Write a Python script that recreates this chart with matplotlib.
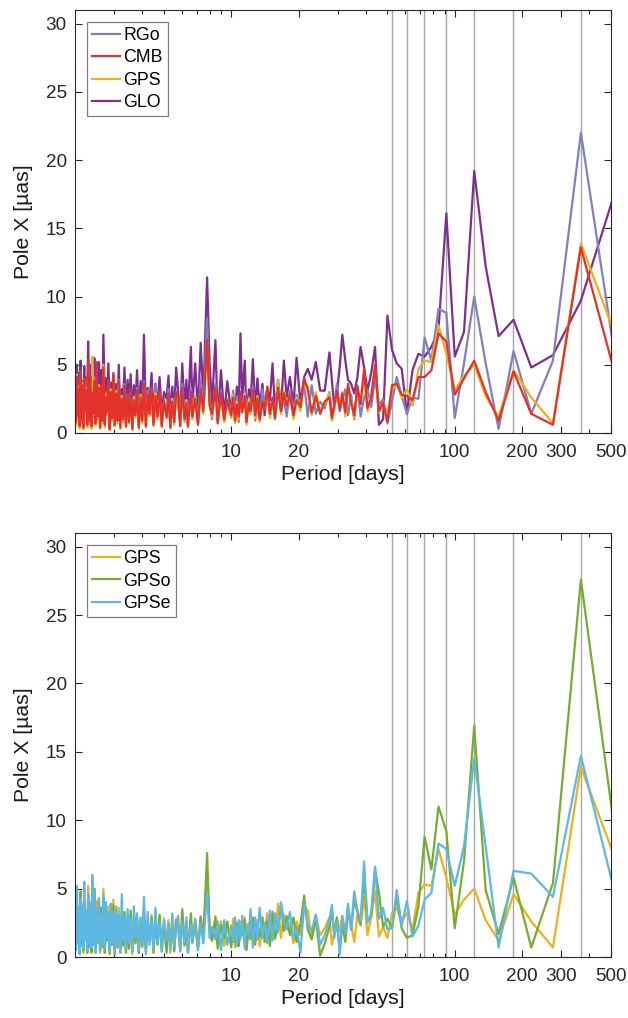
import matplotlib
matplotlib.use("Agg")
import matplotlib.pyplot as plt
from matplotlib.ticker import FixedLocator, NullFormatter, FixedFormatter

plt.rcParams['font.family'] = ['Liberation Sans', 'DejaVu Sans']

# periods [days] of the periodogram (long -> short)
period = [550, 366.7, 275, 220, 183.3, 157.1, 137.5, 122.2, 110, 100,
          91.7, 84.6, 78.6, 73.3, 68.8, 64.7, 61.1, 57.9, 55, 52.4,
          50, 47.8, 45.8, 44, 42.3, 40.7, 39.3, 37.9, 36.7, 35.5,
          34.4, 33.3, 32.4, 31.4, 30.6, 29.7, 28.9, 28.2, 27.5, 26.2,
          25, 23.9, 22.9, 22, 21.2, 20.4, 19.6, 19, 18.3, 17.7,
          17.2, 16.7, 16.2, 15.7, 15.3, 14.9, 14.5, 14.1, 13.8, 13.4,
          13.1, 12.8, 12.5, 12.2, 12, 11.7, 11.5, 11.2, 11, 10.8,
          10.6, 10.4, 10.2, 10, 9.6, 9.3, 9.0, 8.7, 8.5, 8.2,
          8.0, 7.8, 7.5, 7.3, 7.1, 6.9, 6.7, 6.6, 6.4, 6.3,
          6.18, 6.04, 5.91, 5.79, 5.67, 5.56, 5.45, 5.34, 5.24, 5.14,
          5.0, 4.89, 4.78, 4.68, 4.58, 4.49, 4.4, 4.31, 4.23, 4.15,
          4.07, 4.0, 3.93, 3.86, 3.79, 3.73, 3.67, 3.61, 3.55, 3.49,
          3.44, 3.38, 3.33, 3.28, 3.24, 3.19, 3.14, 3.10, 3.06, 3.01,
          2.97, 2.93, 2.89, 2.86, 2.82, 2.78, 2.75, 2.72, 2.68, 2.65,
          2.62, 2.59, 2.56, 2.53, 2.50, 2.47, 2.44, 2.42, 2.39, 2.37,
          2.34, 2.32, 2.29, 2.27, 2.24, 2.22, 2.20, 2.18, 2.16, 2.14,
          2.12, 2.10, 2.08, 2.06, 2.04, 2.02, 2.0]

# annual harmonics marked by grey lines
harmonics = [52.2, 60.9, 73.1, 91.3, 121.8, 182.6, 365.3]

glo = [18.9, 9.7, 5.7, 4.8, 8.3, 7.1, 12.2, 19.2, 7.4, 5.6,
       16.1, 7.6, 6.3, 5.6, 5.8, 4.6, 1.4, 4.7, 5.1, 6.1,
       8.6, 1.0, 0.6, 6.3, 4.4, 3.1, 4.8, 6.3, 4.1, 2.9,
       3.6, 3.9, 5.3, 7.2, 4.9, 2.9, 1.9, 3.9, 5.9, 3.1,
       3.1, 5.2, 3.9, 4.7, 4.1, 2.2, 5.5, 2.0, 4.1, 2.6,
       5.3, 1.8, 3.9, 1.6, 5.1, 2.4, 3.3, 1.3, 3.6, 1.9,
       4.0, 1.7, 5.4, 2.1, 3.2, 1.2, 5.3, 2.5, 7.3, 1.5,
       3.4, 1.2, 2.9, 1.5, 3.8, 1.3, 4.6, 0.9, 6.8, 2.0,
       5.2, 11.4, 2.6, 6.6, 1.5, 5.1, 2.0, 6.3, 1.4, 3.9,
       1.8, 5.1, 1.1, 3.0, 4.8, 1.6, 3.4, 1.2, 4.2, 2.5,
       3.0, 1.4, 4.1, 2.0, 3.6, 1.3, 4.4, 2.1, 3.3, 1.6,
       7.2, 1.9, 3.8, 1.4, 4.6, 2.2, 3.5, 1.1, 4.3, 2.0,
       3.9, 1.5, 4.8, 2.4, 3.2, 1.3, 5.0, 1.8, 3.6, 2.6,
       4.3, 1.6, 3.7, 2.2, 5.1, 1.4, 4.0, 2.5, 7.2, 1.8,
       4.6, 2.1, 5.2, 1.5, 3.9, 2.8, 5.5, 1.6, 4.4, 2.3,
       5.0, 1.7, 6.7, 2.4, 4.1, 1.9, 4.9, 2.2, 3.8, 1.5,
       5.3, 2.6, 4.4, 1.9, 5.0, 3.1, 4.6]

rgo = [3.0, 22.0, 5.3, 1.4, 6.0, 0.3, 5.1, 10.0, 5.1, 1.1,
       8.8, 9.1, 5.3, 7.0, 2.5, 2.6, 1.4, 2.7, 4.1, 2.3,
       0.7, 2.5, 2.0, 4.0, 1.9, 3.2, 2.6, 1.2, 3.5, 1.0,
       2.8, 1.3, 3.2, 2.4, 1.6, 3.6, 2.0, 1.4, 3.0, 1.8,
       2.3, 1.4, 3.5, 1.2, 3.6, 2.1, 2.8, 1.7, 3.1, 1.2,
       2.6, 1.5, 3.3, 1.0, 2.4, 1.3, 2.9, 1.8, 3.2, 1.1,
       2.2, 0.9, 3.4, 1.6, 2.6, 1.0, 3.0, 1.9, 2.4, 0.8,
       2.7, 1.3, 3.1, 1.6, 2.5, 0.9, 2.8, 1.4, 3.6, 1.0,
       2.4, 8.4, 1.9, 3.9, 0.8, 2.7, 1.5, 3.3, 0.6, 2.4,
       1.3, 3.6, 0.7, 2.1, 3.0, 1.0, 2.5, 0.5, 3.2, 1.4,
       2.2, 0.6, 2.9, 1.3, 3.5, 0.9, 2.6, 1.6, 3.1, 0.7,
       3.8, 1.1, 2.4, 0.5, 3.3, 1.5, 2.7, 0.4, 3.0, 1.2,
       2.8, 0.6, 3.6, 1.4, 2.3, 0.8, 3.9, 1.0, 2.6, 0.5,
       3.2, 1.2, 2.5, 0.4, 3.7, 1.6, 2.9, 0.7, 4.2, 1.1,
       2.7, 0.5, 3.5, 1.3, 2.4, 0.8, 4.1, 1.5, 3.0, 0.6,
       3.4, 1.0, 4.3, 0.7, 2.8, 1.4, 3.6, 0.3, 3.1, 1.2,
       3.9, 0.8, 2.7, 1.5, 4.0, 0.9, 3.3]

cmb = [2.9, 13.6, 0.6, 1.4, 4.5, 0.9, 3.0, 5.3, 4.0, 2.8,
       6.7, 7.3, 4.6, 4.1, 4.1, 2.4, 2.7, 2.8, 3.6, 3.5,
       0.8, 2.2, 1.6, 5.0, 2.6, 1.8, 4.7, 2.1, 3.4, 1.3,
       2.2, 3.6, 1.5, 2.9, 1.7, 3.1, 2.0, 1.1, 2.6, 2.3,
       1.4, 2.7, 1.5, 3.2, 4.0, 1.9, 2.4, 1.3, 2.8, 2.0,
       2.9, 1.6, 3.3, 1.1, 2.6, 1.4, 3.4, 1.7, 2.3, 1.0,
       2.5, 1.3, 3.1, 1.6, 2.2, 0.8, 2.7, 1.5, 3.0, 1.2,
       2.1, 0.9, 2.6, 1.3, 2.4, 1.0, 2.9, 0.7, 3.3, 1.4,
       2.0, 6.8, 1.6, 3.2, 0.6, 2.5, 1.2, 3.0, 0.5, 2.2,
       1.0, 3.3, 0.5, 2.6, 3.0, 0.8, 2.3, 0.4, 2.9, 1.1,
       2.4, 0.5, 3.1, 1.2, 2.7, 0.6, 3.3, 1.4, 2.8, 0.5,
       3.6, 0.9, 2.6, 0.4, 3.1, 1.3, 2.4, 0.3, 3.2, 0.8,
       2.7, 0.5, 3.4, 1.0, 2.5, 0.4, 3.8, 0.9, 2.9, 0.6,
       4.4, 1.1, 3.0, 0.3, 3.9, 1.5, 2.6, 0.6, 4.8, 0.9,
       3.5, 0.4, 3.3, 1.2, 5.2, 0.7, 3.8, 1.4, 2.9, 0.5,
       4.2, 0.9, 5.4, 0.6, 3.1, 1.6, 4.0, 0.4, 3.5, 1.0,
       4.6, 0.5, 3.2, 1.3, 4.1, 0.8, 3.6]

gps = [6.2, 13.9, 0.7, 2.6, 4.6, 1.2, 2.7, 5.0, 4.2, 3.1,
       5.8, 7.9, 5.2, 5.3, 4.7, 2.0, 3.2, 2.6, 3.6, 3.2,
       1.4, 2.2, 1.5, 4.8, 2.9, 1.6, 4.4, 2.3, 3.1, 1.1,
       2.4, 3.3, 1.2, 3.0, 1.9, 2.8, 1.7, 0.9, 2.9, 2.1,
       1.6, 3.0, 1.3, 3.4, 3.7, 1.6, 2.6, 1.0, 2.5, 2.2,
       3.1, 1.4, 3.9, 1.3, 2.4, 1.1, 3.2, 1.9, 2.1, 0.8,
       2.7, 1.1, 2.9, 1.4, 2.5, 0.6, 2.9, 1.7, 2.6, 1.0,
       2.3, 0.7, 2.8, 1.1, 2.2, 0.8, 2.6, 0.9, 3.0, 1.2,
       2.2, 6.0, 1.4, 3.0, 0.7, 2.7, 1.0, 2.8, 0.4, 2.4,
       0.8, 3.1, 0.6, 2.4, 2.8, 0.6, 2.5, 0.3, 2.7, 1.3,
       2.2, 0.4, 2.9, 1.0, 2.9, 0.5, 3.1, 1.2, 2.6, 0.4,
       3.4, 0.7, 2.8, 0.3, 2.9, 1.1, 2.6, 0.2, 3.0, 0.7,
       2.5, 0.4, 3.2, 0.8, 2.7, 0.3, 3.6, 0.7, 3.1, 0.5,
       4.2, 0.9, 3.2, 0.2, 3.7, 1.3, 2.8, 0.4, 5.0, 0.7,
       3.3, 0.3, 3.5, 1.0, 4.1, 0.6, 3.6, 1.2, 5.6, 0.3,
       4.0, 0.7, 5.2, 0.4, 3.3, 1.4, 3.8, 0.3, 3.7, 0.8,
       4.4, 0.3, 3.4, 1.1, 4.3, 0.6, 3.8]

gpso = [6.2, 27.6, 5.4, 0.7, 5.8, 1.7, 4.9, 16.9, 7.0, 2.1,
        9.2, 11.0, 6.4, 8.8, 3.7, 1.6, 1.4, 2.1, 4.4, 2.1,
        2.8, 2.2, 4.7, 6.4, 3.0, 2.6, 5.9, 2.4, 3.3, 4.2,
        2.0, 3.6, 1.1, 2.4, 0.4, 2.9, 1.7, 3.4, 2.2, 1.0,
        0.1, 2.8, 1.3, 2.0, 4.5, 2.4, 1.1, 2.9, 1.6, 3.0,
        1.9, 3.9, 2.2, 1.4, 3.3, 0.8, 2.6, 1.1, 2.9, 1.5,
        2.4, 0.9, 2.8, 1.3, 2.2, 0.5, 2.7, 1.6, 2.0, 0.8,
        2.5, 1.1, 2.1, 0.7, 2.6, 1.4, 2.3, 0.6, 2.9, 1.2,
        2.0, 7.6, 1.3, 2.9, 0.6, 2.4, 1.1, 3.2, 0.4, 2.5,
        0.9, 3.5, 0.5, 2.2, 2.7, 0.4, 2.6, 0.9, 2.4, 0.3,
        2.5, 0.6, 3.1, 0.9, 2.7, 0.3, 2.9, 1.2, 2.3, 0.5,
        3.6, 0.8, 2.6, 0.3, 2.8, 1.0, 2.4, 0.4, 3.4, 0.6,
        2.3, 0.3, 3.3, 0.9, 2.6, 0.4, 3.0, 0.7, 2.9, 0.2,
        3.8, 0.9, 3.4, 0.3, 3.0, 1.2, 2.7, 0.3, 4.4, 0.8,
        3.6, 0.5, 4.2, 1.1, 3.2, 0.6, 5.0, 0.9, 3.9, 0.4,
        3.7, 0.8, 4.5, 0.3, 3.4, 1.3, 4.0, 0.5, 3.2, 1.0,
        4.8, 0.4, 3.0, 1.2, 3.9, 0.6, 3.5]

gpse = [3.1, 14.7, 4.4, 6.1, 6.3, 0.7, 8.1, 14.5, 8.1, 5.2,
        7.9, 8.3, 4.7, 4.2, 2.3, 1.5, 4.1, 2.3, 4.9, 2.1,
        2.0, 3.6, 2.8, 6.6, 3.2, 2.5, 7.0, 2.6, 3.4, 4.8,
        2.1, 3.9, 1.7, 3.0, 0.2, 2.6, 1.4, 3.8, 2.7, 1.6,
        0.9, 3.1, 1.9, 2.4, 3.9, 0.3, 2.2, 1.4, 3.3, 2.0,
        2.6, 4.0, 1.8, 3.2, 1.2, 3.4, 1.0, 2.5, 1.4, 3.6,
        1.3, 2.9, 0.7, 3.5, 1.5, 2.4, 0.6, 3.0, 1.3, 2.7,
        0.8, 2.9, 1.1, 2.3, 0.9, 2.7, 0.5, 2.6, 1.3, 2.2,
        1.4, 4.8, 1.0, 2.5, 0.5, 2.8, 1.2, 2.4, 0.3, 2.9,
        1.1, 2.6, 0.4, 3.0, 2.1, 0.8, 3.2, 0.5, 2.3, 1.2,
        2.8, 0.4, 2.5, 1.1, 3.6, 0.6, 2.7, 0.9, 3.3, 0.2,
        4.4, 0.9, 2.9, 0.5, 3.2, 1.3, 3.7, 0.4, 2.8, 1.0,
        3.5, 0.6, 2.9, 1.2, 4.6, 0.3, 3.1, 0.8, 3.7, 0.5,
        3.4, 1.0, 3.9, 0.4, 3.2, 1.4, 4.0, 0.6, 4.6, 0.9,
        3.1, 0.5, 4.3, 1.2, 3.6, 0.3, 4.8, 1.0, 6.0, 0.7,
        3.8, 1.1, 4.6, 0.4, 3.3, 1.5, 5.5, 0.6, 3.9, 1.3,
        4.3, 0.2, 3.6, 1.0, 5.2, 0.5, 4.5]

# (label, values, colour) in drawing order, plus legend order
top_series = [('GLO', glo, '#7E2F8E'), ('RGo', rgo, '#8080C0'),
              ('GPS', gps, '#EDB120'), ('CMB', cmb, '#E4312B')]
top_legend = ['RGo', 'CMB', 'GPS', 'GLO']
bot_series = [('GPS', gps, '#EDB120'), ('GPSo', gpso, '#77AC30'),
              ('GPSe', gpse, '#5DB8E2')]
bot_legend = ['GPS', 'GPSo', 'GPSe']

fig = plt.figure(figsize=(6.28, 10.18), dpi=100)
ax1 = fig.add_axes([0.1194, 0.5747, 0.8535, 0.4155])
ax2 = fig.add_axes([0.1194, 0.0599, 0.8535, 0.4165])

tick_fs = 13.6
label_fs = 15.3
leg_fs = 12.8
for ax, series, order in [(ax1, top_series, top_legend), (ax2, bot_series, bot_legend)]:
    for h in harmonics:
        ax.axvline(h, color='#A6A6A6', lw=1.0, zorder=1)
    handles = {}
    for name, vals, col in series:
        ln, = ax.plot(period, vals, color=col, lw=1.6, zorder=2, label=name)
        handles[name] = ln
    ax.set_xscale('log')
    ax.set_xlim(2, 500)
    ax.set_ylim(0, 31)
    ax.xaxis.set_major_locator(FixedLocator([10, 20, 100, 200, 300, 500]))
    ax.xaxis.set_major_formatter(FixedFormatter(['10', '20', '100', '200', '300', '500']))
    ax.xaxis.set_minor_locator(FixedLocator([3, 4, 5, 6, 7, 8, 9, 30, 40, 50, 60, 70, 80, 90, 400]))
    ax.xaxis.set_minor_formatter(NullFormatter())
    ax.set_yticks([0, 5, 10, 15, 20, 25, 30])
    ax.tick_params(which='both', direction='in', top=True, right=True,
                   labelsize=tick_fs, colors='#262626', width=0.8)
    ax.tick_params(which='major', length=5)
    ax.tick_params(which='minor', length=3)
    ax.tick_params(axis='x', which='major', pad=8)
    ax.tick_params(axis='y', which='major', pad=6)
    for sp in ax.spines.values():
        sp.set_color('#262626')
        sp.set_linewidth(0.8)
    ax.set_xlabel('Period [days]', fontsize=label_fs, color='#1a1a1a', labelpad=3)
    ax.set_ylabel('Pole X [µas]', fontsize=label_fs, color='#1a1a1a', labelpad=9)
    leg = ax.legend([handles[n] for n in order], order, loc='upper left',
                    bbox_to_anchor=(0.022, 0.972), borderaxespad=0,
                    fontsize=leg_fs, handlelength=1.55, handletextpad=0.2,
                    labelspacing=0.3, borderpad=0.3, fancybox=False,
                    framealpha=1, edgecolor='#7F7F7F')
    leg.get_frame().set_linewidth(0.9)

fig.savefig('out.png', dpi=100)
